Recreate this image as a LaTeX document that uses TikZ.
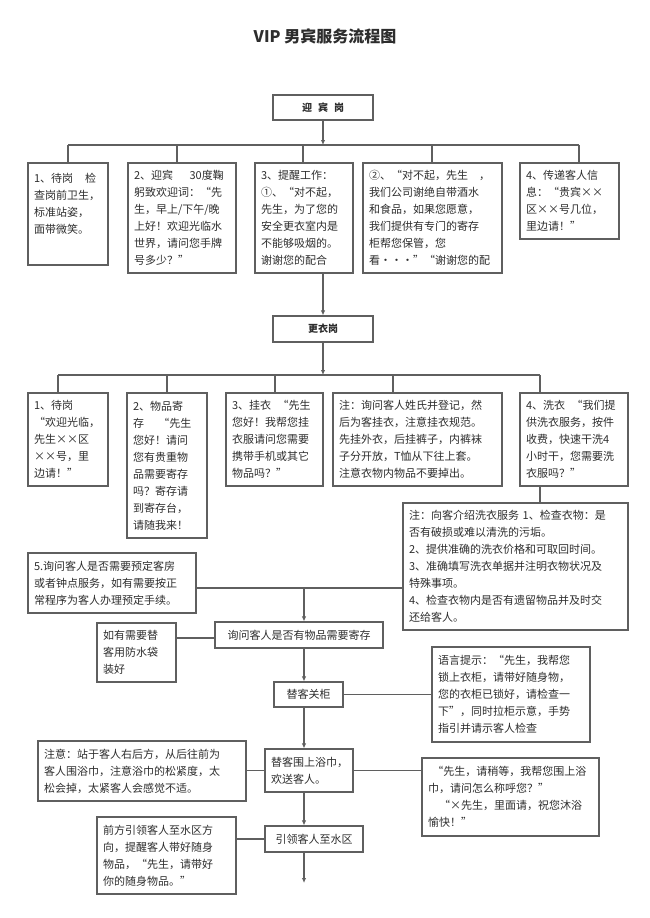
\documentclass[tikz,border=0pt]{standalone}
\usepackage{fontspec}
\setmainfont{Noto Sans CJK SC}
\usetikzlibrary{arrows.meta}
\definecolor{lc}{RGB}{95,95,95}
\definecolor{tc}{RGB}{45,45,45}
\tikzset{
  bx/.style={draw=lc, line width=1.2pt, rectangle, inner xsep=6pt, inner ysep=3pt, align=left, text=tc, font=\fontsize{11}{17}\selectfont},
  cbx/.style={draw=lc, line width=1.2pt, rectangle, inner sep=0pt, align=center, text=tc, font=\fontsize{11}{17}\selectfont},
  hd/.style={draw=lc, line width=1.2pt, rectangle, inner sep=0pt, text=tc, font=\bfseries\fontsize{10}{12}\selectfont},
  ln/.style={draw=lc, line width=1.2pt},
  ar/.style={ln, -{Latex[length=5pt,width=4.5pt]}},
}
\begin{document}
\begin{tikzpicture}[x=1pt,y=-1pt]
\useasboundingbox (0,0) rectangle (650,918);
\node[font=\bfseries\fontsize{16}{18}\selectfont, text=tc] (title) at (325,36) {VIP 男宾服务流程图};

% --- level 1
\node[hd, minimum width=100pt, minimum height=25pt] (hd1) at (323,107.5) {迎\hspace{0.6em}宾\hspace{0.6em}岗};

\node[bx, text width=68pt, minimum height=102pt] (B1) at (68,214) {\mbox{1、待岗\hspace{1.1em}检}\\查岗前卫生，\\标准站姿，\\面带微笑。\\[4pt]\mbox{}};
\node[bx, text width=96pt, minimum height=110pt] (B2) at (182,218) {\mbox{2、迎宾\hspace{1.5em}30度鞠}\\躬致欢迎词：“先\\生，早上/下午/晚\\上好！欢迎光临水\\世界，请问您手牌\\号多少？”};
\node[bx, text width=86pt, minimum height=110pt] (B3) at (304,218) {3、提醒工作：\\①、“对不起，\\先生，为了您的\\安全更衣室内是\\不能够吸烟的。\\谢谢您的配合};
\node[bx, text width=127pt, minimum height=110pt] (B4) at (432.5,218) {\mbox{②、“对不起，先生\hspace{1em}，}\\我们公司谢绝自带酒水\\和食品，如果您愿意，\\我们提供有专门的寄存\\柜帮您保管，您\\看・・・”“谢谢您的配};
\node[bx, text width=87pt, minimum height=76pt] (B5) at (569.5,201) {4、传递客人信\\息：“贵宾××\\区××号几位，\\里边请！”};

\coordinate (j1) at (323,145);
\coordinate (p1) at (68,145);
\coordinate (p2) at (177,145);
\coordinate (p3) at (303,145);
\coordinate (p4) at (432,145);
\coordinate (p5) at (579,145);
\draw[ar] (hd1.south) -- (j1);
\draw[ln] (p1) -- (p5);
\draw[ln] (p1) -- (p1 |- B1.north);
\draw[ln] (p2) -- (p2 |- B2.north);
\draw[ln] (p3) -- (p3 |- B3.north);
\draw[ln] (p4) -- (p4 |- B4.north);
\draw[ln] (p5) -- (p5 |- B5.north);

% --- level 2
\node[hd, minimum width=100pt, minimum height=26pt] (hd2) at (323,329) {更衣岗};
\draw[ar] (j1 |- B3.south) -- (hd2.north);

\node[bx, text width=68pt, minimum height=93pt] (C1) at (68,439.5) {1、待岗\\“欢迎光临，\\先生××区\\××号，里\\边请！”};
\node[bx, text width=68pt, minimum height=145pt] (C2) at (167,465.5) {2、物品寄\\\mbox{存\hspace{1.3em}“先生}\\您好！请问\\您有贵重物\\品需要寄存\\吗？寄存请\\到寄存台，\\请随我来！};
\node[bx, text width=85pt, minimum height=93pt] (C3) at (274.5,439.5) {\mbox{3、挂衣\hspace{0.6em}“先生}\\您好！我帮您挂\\衣服请问您需要\\携带手机或其它\\物品吗？”};
\node[bx, text width=157pt, minimum height=93pt] (C4) at (417.5,439.5) {注：询问客人姓氏并登记，然\\后为客挂衣，注意挂衣规范。\\先挂外衣，后挂裤子，内裤袜\\子分开放，T恤从下往上套。\\注意衣物内物品不要掉出。};
\node[bx, text width=96pt, minimum height=93pt] (C5) at (574,439.5) {\mbox{4、洗衣\hspace{0.6em}“我们提}\\供洗衣服务，按件\\收费，快速干洗4\\小时干，您需要洗\\衣服吗？”};

\coordinate (q0) at (323,375);
\coordinate (q1) at (58,375);
\coordinate (q2) at (167,375);
\coordinate (q3) at (275,375);
\coordinate (q4) at (393,375);
\coordinate (q5) at (540,375);
\draw[ar] (hd2.south) -- (q0);
\draw[ln] (q1) -- (q5);
\draw[ln] (q1) -- (q1 |- C1.north);
\draw[ln] (q2) -- (q2 |- C2.north);
\draw[ln] (q3) -- (q3 |- C3.north);
\draw[ln] (q4) -- (q4 |- C4.north);
\draw[ln] (q5) -- (q5 |- C5.north);

% --- laundry note
\node[bx, text width=213pt, minimum height=127pt] (D) at (515.5,566.5) {注：向客介绍洗衣服务 1、检查衣物：是\\否有破损或难以清洗的污垢。\\2、提供准确的洗衣价格和可取回时间。\\3、准确填写洗衣单据并注明衣物状况及\\特殊事项。\\4、检查衣物内是否有遗留物品并及时交\\还给客人。};
\draw[ln] (q5 |- C5.south) -- (q5 |- D.north);

% --- lower flow
\coordinate (v) at (304,0);
\coordinate (h588) at (0,588);
\coordinate (h638) at (0,638);
\node[bx, text width=156pt, minimum height=60pt] (E) at (112,583) {5.询问客人是否需要预定客房\\或者钟点服务，如有需要按正\\常程序为客人办理预定手续。};
\draw[ln] (E.east |- h588) -- (D.west |- h588);

\node[cbx, minimum width=168pt, minimum height=26pt] (F) at (299,635) {询问客人是否有物品需要寄存};
\draw[ar] (v |- h588) -- (v |- F.north);

\node[bx, text width=67pt, minimum height=59pt] (G) at (136.5,652.5) {如有需要替\\客用防水袋\\装好};
\draw[ln] (G.east |- h638) -- (F.west |- h638);

\node[cbx, minimum width=69pt, minimum height=25pt] (H) at (308.5,694.5) {替客关柜};
\draw[ar] (v |- F.south) -- (v |- H.north);

\node[bx, text width=146pt, minimum height=95pt] (I) at (511,694.5) {语言提示：“先生，我帮您\\锁上衣柜，请带好随身物，\\您的衣柜已锁好，请检查一\\下”，同时拉柜示意，手势\\指引并请示客人检查};
\draw[ln] (H.east) -- (H.east -| I.west);

\node[bx, text width=76pt, minimum height=43pt] (J) at (309,770.5) {替客围上浴巾，\\欢送客人。};
\draw[ar] (v |- H.south) -- (v |- J.north);

\node[bx, text width=196pt, minimum height=60pt] (K) at (142,771) {注意：站于客人右后方，从后往前为\\客人围浴巾，注意浴巾的松紧度，太\\松会掉，太紧客人会感觉不适。};
\draw[ln] (K.east |- J.west) -- (J.west);

\node[bx, text width=165pt, minimum height=78pt] (L) at (510.5,797) {\mbox{\hspace{0.4em}“先生，请稍等，我帮您围上浴}\\巾，请问怎么称呼您？”\\\mbox{\hspace{1em}“×先生，里面请，祝您沐浴}\\愉快！”};
\draw[ln] (J.east) -- (J.east -| L.west);

\node[cbx, minimum width=98pt, minimum height=26pt] (M) at (314,839) {引领客人至水区};
\draw[ar] (v |- J.south) -- (v |- M.north);

\node[bx, text width=127pt, minimum height=77pt] (N) at (166.5,855.5) {前方引领客人至水区方\\向，提醒客人带好随身\\物品，“先生，请带好\\你的随身物品。”};
\draw[ln] (N.east |- M.west) -- (M.west);

\coordinate (fin) at (304,883);
\draw[ar] (v |- M.south) -- (fin);
\end{tikzpicture}
\end{document}
